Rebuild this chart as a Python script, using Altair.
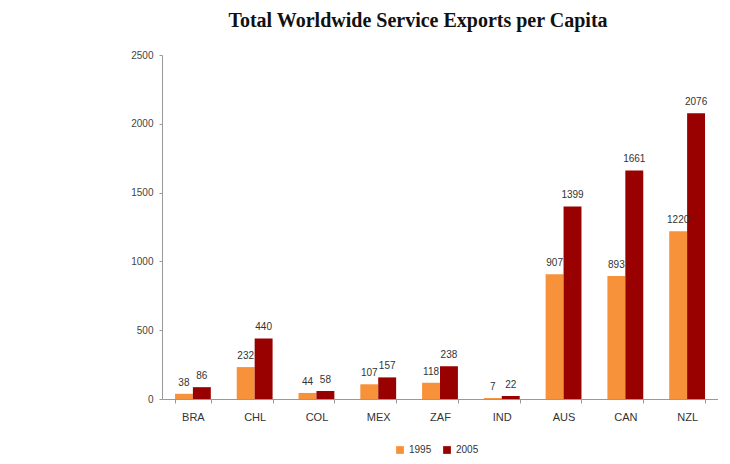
import altair as alt
import pandas as pd

countries = ["BRA", "CHL", "COL", "MEX", "ZAF", "IND", "AUS", "CAN", "NZL"]
v1995 = [38, 232, 44, 107, 118, 7, 907, 893, 1220]
v2005 = [86, 440, 58, 157, 238, 22, 1399, 1661, 2076]
years = ["1995", "2005"]
colors = ["#F7923A", "#990000"]

rows = []
for c, a, b in zip(countries, v1995, v2005):
    rows.append({"country": c, "year": years[0], "value": a})
    rows.append({"country": c, "year": years[1], "value": b})
df = pd.DataFrame(rows)

x = alt.X("country:N", sort=countries, title=None,
          scale=alt.Scale(paddingInner=0.42, paddingOuter=0.21),
          axis=alt.Axis(labelAngle=0, labelFont="Liberation Sans", labelFontSize=11,
                        labelColor="#333", labelPadding=8, domainColor="#999",
                        tickColor="#999", tickSize=4, tickBand="extent"))
xo = alt.XOffset("year:N", sort=years)
yscale = alt.Scale(domain=[0, 2500], nice=False, zero=True)

base = alt.Chart(df)
bars = base.mark_bar().encode(
    x=x, xOffset=xo,
    y=alt.Y("value:Q", title=None, scale=yscale,
            axis=alt.Axis(values=[0, 500, 1000, 1500, 2000, 2500], grid=False,
                          format="d",
                          labelFont="Liberation Sans", labelFontSize=10,
                          labelColor="#444", domainColor="#999", tickColor="#999",
                          tickSize=3, labelPadding=6)),
    color=alt.Color("year:N", sort=years,
                    scale=alt.Scale(domain=years, range=colors),
                    legend=alt.Legend(title=None, orient="none", direction="horizontal",
                                      legendX=233, legendY=390, symbolType="square",
                                      symbolSize=60, symbolStrokeWidth=0,
                                      labelFont="Liberation Sans", labelFontSize=10,
                                      labelColor="#333", columnPadding=10,
                                      labelLimit=60)),
)
labels = base.mark_text(dy=-6, baseline="bottom", font="Liberation Sans",
                        fontSize=10, color="#333").encode(
    x=alt.X("country:N", sort=countries), xOffset=xo,
    y=alt.Y("value:Q", scale=yscale), text="value:Q")

chart = alt.layer(bars, labels).properties(
    width=556, height=344,
    padding={"left": 154, "top": 47, "right": 0, "bottom": 56},
    autosize=alt.AutoSizeParams(type="none"),
    title=alt.TitleParams("Total Worldwide Service Exports per Capita",
                          font="Liberation Serif", fontSize=20, fontWeight="bold",
                          color="#111", dx=-22, offset=19),
).configure_view(stroke=None)

chart.save("out.html", embed_options={"renderer": "svg", "actions": False})
